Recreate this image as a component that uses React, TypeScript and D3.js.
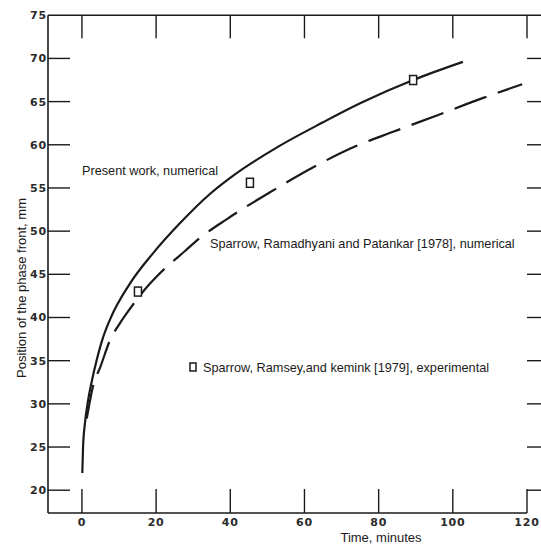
import React from "react";
import * as d3 from "d3";

const W = 541;
const H = 545;

// Time (minutes) / position (mm) for the "Present work, numerical" curve
const presentT = [0.1, 0.3, 0.8, 1.7, 2.6, 4, 5.4, 7.5, 12.9, 19.1, 26.4, 34.5, 40.7, 52.6, 65, 75, 89.3, 102.7];
const presentV = [22.0, 25.0, 27.7, 30.5, 32.5, 35.1, 37.3, 39.7, 43.9, 47.4, 50.9, 54.3, 56.4, 59.7, 62.6, 64.8, 67.5, 69.6];

// Sparrow, Ramadhyani and Patankar [1978], numerical (dashed)
const sparrowT = [1.3, 3.2, 4.9, 7.5, 10.2, 12.1, 18.3, 20.5, 27.8, 31.8, 39.1, 50.7, 61.5, 73.6, 83.9, 95.7, 108, 118.7];
const sparrowV = [28.3, 32.4, 34.2, 37.3, 39.3, 40.5, 43.9, 44.9, 47.7, 49.2, 51.4, 54.5, 57.2, 59.8, 61.5, 63.4, 65.4, 67.0];

// Sparrow, Ramsey, and Kemink [1979], experimental (squares)
const expT = [15.1, 45.3, 89.3];
const expV = [43.0, 55.6, 67.5];

const xTicks = [0, 20, 40, 60, 80, 100, 120];
const yTicks = [20, 25, 30, 35, 40, 45, 50, 55, 60, 65, 70, 75];

const xDomain = [-9.15, 120];
const yDomain = [17.36, 75];

export default function App() {
  const x = d3.scaleLinear().domain(xDomain).range([48, 527]);
  const y = d3.scaleLinear().domain(yDomain).range([513, 15.25]);

  const line = d3
    .line<[number, number]>()
    .x((d) => x(d[0]))
    .y((d) => y(d[1]))
    .curve(d3.curveMonotoneX);

  const presentPts = presentT.map((t, i) => [t, presentV[i]] as [number, number]);
  const sparrowPts = sparrowT.map((t, i) => [t, sparrowV[i]] as [number, number]);

  const ink = "#1a1a1a";
  const tickFont = "'DejaVu Sans', sans-serif";
  const textFont = "Arial, 'Liberation Sans', sans-serif";

  const x0 = x(xDomain[0]);
  const xR = x(120);
  const yTop = y(75);
  const yBot = y(yDomain[0]);

  return (
    <svg
      width={W}
      height={H}
      style={{ position: "absolute", left: 0, top: 0, background: "#fff" }}
    >
      <rect width={W} height={H} fill="#fff" />
      {/* frame */}
      <line x1={x0} x2={W} y1={yTop} y2={yTop} stroke={ink} strokeWidth={1.6} />
      <line x1={x0} x2={x0} y1={yTop} y2={yBot} stroke={ink} strokeWidth={1.6} />
      <line x1={x0} x2={xR} y1={yBot} y2={yBot} stroke={ink} strokeWidth={1.6} />

      {/* x ticks: bottom and top */}
      {xTicks.map((t) => (
        <g key={"xt" + t}>
          <line x1={x(t)} x2={x(t)} y1={yBot} y2={yBot - 24} stroke={ink} strokeWidth={1.4} />
          <line x1={x(t)} x2={x(t)} y1={yTop} y2={yTop + 23} stroke={ink} strokeWidth={1.4} />
          <text
            x={x(t)}
            y={yBot + 13}
            textAnchor="middle"
            fontFamily={tickFont}
            fontSize={11}
            fontWeight="bold"
            letterSpacing={0.8}
            fill="#2a2a2a"
          >
            {t}
          </text>
        </g>
      ))}

      {/* y ticks: left and right */}
      {yTicks.map((v) => (
        <g key={"yt" + v}>
          {v < 75 && (
            <>
              <line x1={x0} x2={x0 + 22} y1={y(v)} y2={y(v)} stroke={ink} strokeWidth={1.4} />
              <line x1={xR} x2={W} y1={y(v)} y2={y(v)} stroke={ink} strokeWidth={1.4} />
            </>
          )}
          <text
            x={x0 - 1}
            y={y(v) + 4}
            textAnchor="end"
            fontFamily={tickFont}
            fontSize={11}
            fontWeight="bold"
            letterSpacing={0.8}
            fill="#2a2a2a"
          >
            {v}
          </text>
        </g>
      ))}

      {/* curves */}
      <path d={line(presentPts) || ""} fill="none" stroke={ink} strokeWidth={2.2} />
      <path
        d={line(sparrowPts) || ""}
        fill="none"
        stroke={ink}
        strokeWidth={2.2}
        strokeDasharray="34 12"
      />

      {/* experimental points */}
      {expT.map((t, i) => (
        <rect
          key={"e" + i}
          x={x(t) - 3.5}
          y={y(expV[i]) - 4.5}
          width={7}
          height={9}
          fill="#fff"
          stroke={ink}
          strokeWidth={1.5}
        />
      ))}

      {/* annotations */}
      <text x={82} y={175} fontFamily={textFont} fontSize={12.7} fill={ink}>
        Present work, numerical
      </text>
      <text x={210} y={248} fontFamily={textFont} fontSize={12.7} fill={ink}>
        Sparrow, Ramadhyani and Patankar [1978], numerical
      </text>
      <rect x={190} y={363} width={6} height={8} fill="#fff" stroke={ink} strokeWidth={1.5} />
      <text x={203} y={371.5} fontFamily={textFont} fontSize={12.7} fill={ink}>
        Sparrow, Ramsey,and kemink [1979], experimental
      </text>

      {/* axis titles */}
      <text
        x={381}
        y={542}
        textAnchor="middle"
        fontFamily={textFont}
        fontSize={13}
        fill={ink}
      >
        Time, minutes
      </text>
      <text
        transform={`translate(26, 288) rotate(-90)`}
        textAnchor="middle"
        fontFamily={textFont}
        fontSize={13}
        fill={ink}
      >
        Position of the phase front, mm
      </text>
    </svg>
  );
}
